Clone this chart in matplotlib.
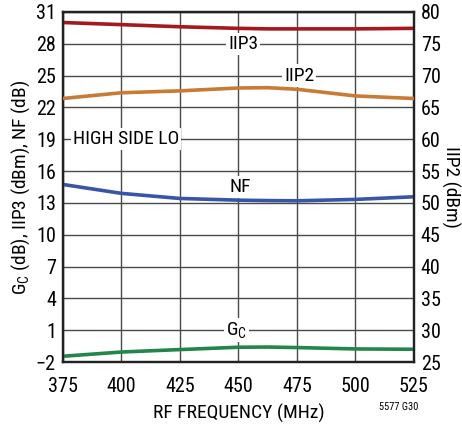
import matplotlib
matplotlib.use("Agg")
import matplotlib.pyplot as plt
from matplotlib import font_manager

freq = [375, 400, 425, 450, 462.5, 475, 500, 525]
iip3 = [30.0, 29.8, 29.6, 29.45, 29.4, 29.4, 29.4, 29.45]
iip2 = [66.4, 67.3, 67.6, 68.05, 68.1, 67.85, 66.8, 66.4]
nf = [14.74, 13.9, 13.42, 13.26, 13.22, 13.2, 13.33, 13.58]
gc = [-1.45, -1.05, -0.82, -0.6, -0.58, -0.63, -0.76, -0.79]

xticks = [375, 400, 425, 450, 475, 500, 525]
left_ticks = list(range(-2, 32, 3))
right_ticks = list(range(25, 81, 5))

condensed = [f for f in font_manager.fontManager.ttflist
             if ('Narrow' in f.name or 'Condensed' in f.name
                 or str(f.stretch) in ('condensed', 'semi-condensed', 'extra-condensed'))
             and f.style == 'normal']
found = None
for pref in ('Liberation Sans Narrow', 'Roboto Condensed', 'Open Sans Condensed', 'DejaVu Sans'):
    for f in condensed:
        if f.name.startswith(pref):
            found = f
            break
    if found:
        break
if found is None and condensed:
    found = condensed[0]

if found is not None:
    plt.rcParams['font.family'] = [found.name, 'DejaVu Sans']
    plt.rcParams['font.stretch'] = found.stretch
    fs = 14
else:
    plt.rcParams['font.family'] = ['Liberation Sans', 'DejaVu Sans']
    fs = 13
plt.rcParams['axes.unicode_minus'] = True
plt.rcParams['mathtext.default'] = 'regular'

fig = plt.figure(figsize=(4.62, 4.25), dpi=100)
ax = fig.add_axes([0.136, 0.148, 0.760, 0.824])
ax2 = ax.twinx()

ax.set_xlim(375, 525)
ax.set_ylim(-2, 31)
ax2.set_ylim(25, 80)
ax.set_xticks(xticks)
ax.set_yticks(left_ticks)
ax2.set_yticks(right_ticks)
ax.set_yticklabels([str(t).replace('-', '\u2212') for t in left_ticks])

ax.grid(True, color='#4a4a4a', linewidth=1.0)
ax.set_axisbelow(True)
for a in (ax, ax2):
    a.tick_params(length=0, labelsize=fs + 0.5, pad=5)
    for s in a.spines.values():
        s.set_linewidth(1.6)
        s.set_color('#222222')
ax.tick_params(axis='x', pad=11)

lw = 2.6
ax.plot(freq, iip3, color='#a3191f', lw=lw, zorder=3)
ax2.plot(freq, iip2, color='#c87b35', lw=lw, zorder=3)
ax.plot(freq, nf, color='#3a55a8', lw=lw, zorder=3)
ax.plot(freq, gc, color='#24854a', lw=lw, zorder=3)

bbox = dict(facecolor='white', edgecolor='none', pad=1.5)
ax.text(452, 28, 'IIP3', fontsize=fs, ha='center', va='center', bbox=bbox, zorder=2)
ax2.text(476, 70, 'IIP2', fontsize=fs, ha='center', va='center', bbox=bbox, zorder=2)
ax.text(402, 19, 'HIGH SIDE LO', fontsize=fs, ha='center', va='center', bbox=bbox, zorder=2)
ax.text(451, 14.5, 'NF', fontsize=fs, ha='center', va='center', bbox=bbox, zorder=2)
ax.text(449, 1, 'G$_C$', fontsize=fs, ha='center', va='center', bbox=bbox, zorder=2)

ax.set_xlabel('RF FREQUENCY (MHz)', fontsize=fs, labelpad=5)
ax.set_ylabel('G$_C$ (dB), IIP3 (dBm), NF (dB)', fontsize=fs, labelpad=3)
ax2.set_ylabel('IIP2 (dBm)', fontsize=fs, rotation=270, labelpad=14)

fig.text(0.905, 0.03, '5577 G30', fontsize=7.5, ha='right', va='bottom')

fig.savefig('out.png', dpi=100)
